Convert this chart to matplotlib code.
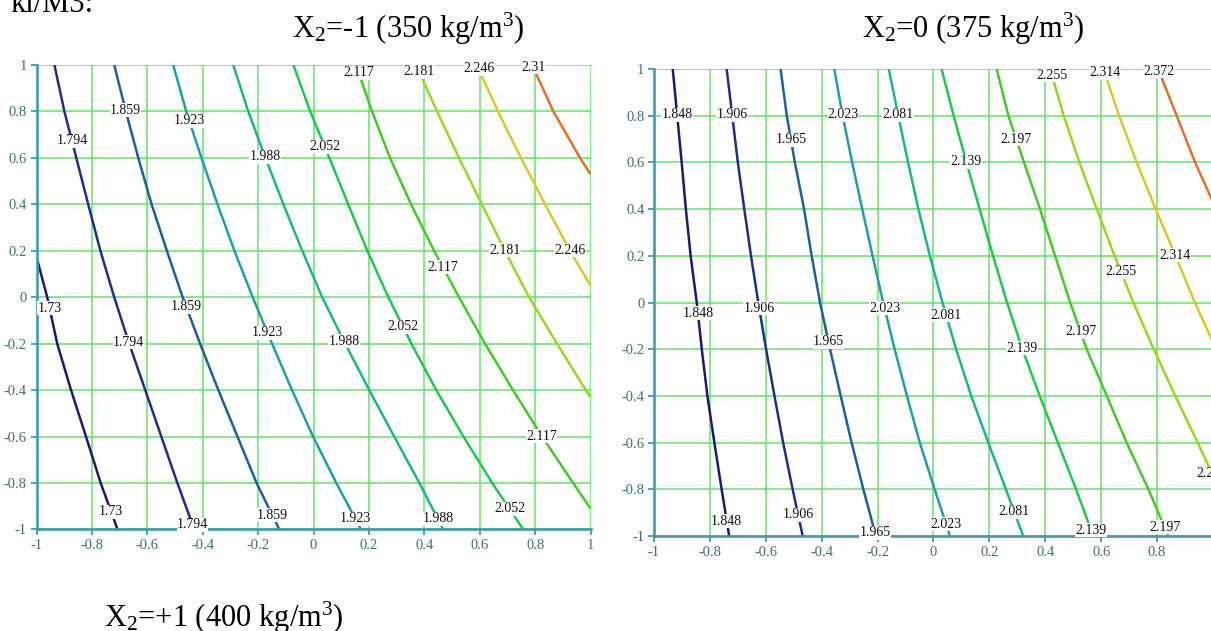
import numpy as np
import matplotlib
matplotlib.use("Agg")
import matplotlib.pyplot as plt

plt.rcParams['mathtext.fontset'] = 'custom'
plt.rcParams['mathtext.rm'] = 'Liberation Serif'
plt.rcParams['mathtext.it'] = 'Liberation Serif:italic'
plt.rcParams['font.family'] = ['Liberation Serif', 'DejaVu Serif']

# ---- axis ticks -------------------------------------------------------
tick_values = [-1, -0.8, -0.6, -0.4, -0.2, 0, 0.2, 0.4, 0.6, 0.8, 1]
tick_labels = ['-1', '-0.8', '-0.6', '-0.4', '-0.2', '0', '0.2', '0.4', '0.6', '0.8', '1']

# common X3 positions at which contour traces are sampled
x3_full = [1, 0.8, 0.6, 0.4, 0.2, 0, -0.2, -0.4, -0.6, -0.8, -1]

# ---- panel X2 = -1 ----------------------------------------------------
left_levels = [1.73, 1.794, 1.859, 1.923, 1.988, 2.052, 2.117, 2.181, 2.246, 2.31]
left_x3 = [
    [0.17, 0, -0.2, -0.4, -0.6, -0.8, -1],
    x3_full, x3_full, x3_full, x3_full, x3_full,
    [1, 0.8, 0.6, 0.4, 0.2, 0, -0.2, -0.4, -0.6, -0.8, -0.91],
    [1, 0.8, 0.6, 0.4, 0.2, 0, -0.2, -0.4, -0.43],
    [1, 0.8, 0.6, 0.4, 0.2, 0.05],
    [1, 0.8, 0.6, 0.53],
]
left_x1 = [
    [-1.0, -0.962, -0.926, -0.876, -0.822, -0.769, -0.708],
    [-0.936, -0.900, -0.857, -0.814, -0.770, -0.720, -0.666, -0.608, -0.550, -0.492, -0.431],
    [-0.720, -0.678, -0.633, -0.585, -0.530, -0.473, -0.410, -0.344, -0.275, -0.206, -0.124],
    [-0.507, -0.460, -0.405, -0.347, -0.286, -0.220, -0.150, -0.078, -0.002, 0.082, 0.171],
    [-0.290, -0.236, -0.174, -0.109, -0.041, 0.031, 0.114, 0.201, 0.291, 0.382, 0.468],
    [-0.073, -0.012, 0.057, 0.125, 0.194, 0.270, 0.353, 0.443, 0.541, 0.645, 0.757],
    [0.153, 0.211, 0.276, 0.352, 0.435, 0.525, 0.619, 0.720, 0.825, 0.937, 1.0],
    [0.370, 0.446, 0.525, 0.608, 0.691, 0.778, 0.879, 0.983, 1.0],
    [0.589, 0.666, 0.749, 0.836, 0.926, 1.0],
    [0.789, 0.866, 0.962, 1.0],
]
# X3 positions of the inline value labels on each contour
left_label_x3 = [
    [-0.047, -0.925],
    [0.673, -0.193, -0.98],
    [0.806, -0.042, -0.938],
    [0.759, -0.154, -0.955],
    [0.604, -0.189, -0.955],
    [0.647, -0.128, -0.912],
    [0.966, 0.130, -0.598],
    [0.97, 0.203],
    [0.983, 0.203],
    [0.99],
]

# ---- panel X2 = 0 -----------------------------------------------------
right_levels = [1.848, 1.906, 1.965, 2.023, 2.081, 2.139, 2.197, 2.255, 2.314, 2.372]
right_x3 = [
    x3_full, x3_full, x3_full, x3_full, x3_full, x3_full, x3_full,
    [1, 0.8, 0.6, 0.4, 0.2, 0, -0.2, -0.4, -0.6, -0.74],
    [1, 0.8, 0.6, 0.4, 0.2, 0, -0.17],
    [1, 0.8, 0.6, 0.43],
]
right_x1 = [
    [-0.933, -0.917, -0.901, -0.886, -0.869, -0.847, -0.829, -0.809, -0.784, -0.758, -0.731],
    [-0.740, -0.720, -0.700, -0.677, -0.653, -0.627, -0.599, -0.569, -0.538, -0.504, -0.468],
    [-0.547, -0.525, -0.496, -0.463, -0.436, -0.406, -0.370, -0.332, -0.293, -0.251, -0.206],
    [-0.355, -0.325, -0.291, -0.255, -0.218, -0.180, -0.139, -0.095, -0.049, 0.004, 0.059],
    [-0.160, -0.126, -0.091, -0.054, -0.013, 0.032, 0.081, 0.135, 0.196, 0.259, 0.321],
    [0.029, 0.072, 0.118, 0.165, 0.213, 0.263, 0.318, 0.380, 0.445, 0.510, 0.572],
    [0.226, 0.268, 0.324, 0.381, 0.435, 0.489, 0.548, 0.620, 0.691, 0.769, 0.840],
    [0.417, 0.466, 0.522, 0.584, 0.648, 0.715, 0.788, 0.865, 0.945, 1.0],
    [0.608, 0.664, 0.727, 0.795, 0.866, 0.935, 1.0],
    [0.804, 0.870, 0.936, 1.0],
]
right_label_x3 = [
    [0.803, -0.045, -0.936],
    [0.803, -0.024, -0.910],
    [0.696, -0.169, -0.987],
    [0.803, -0.024, -0.949],
    [0.803, -0.054, -0.897],
    [0.602, -0.195, -0.975],
    [0.700, -0.126, -0.962],
    [0.974, 0.131, -0.734],
    [0.983, 0.203],
    [0.991],
]

# colour ramp shared by both panels (lowest to highest level)
level_colors = ['#1b1a72', '#1f2c8c', '#1f5e9c', '#1e9fa8', '#1eb48a',
                '#22c64e', '#44c82a', '#96d624', '#d6c82a', '#e2702a']

SPINE = '#3f9caa'
GRID = '#66e066'
TICKTXT = '#3e6e72'


def draw_panel(ax, levels, x3s, x1s, label_x3s):
    ax.set_xlim(-1, 1)
    ax.set_ylim(-1, 1)
    ax.set_xticks(tick_values)
    ax.set_xticklabels(tick_labels)
    ax.set_yticks(tick_values)
    ax.set_yticklabels(tick_labels)
    ax.grid(True, color=GRID, lw=1.1, zorder=0)
    ax.set_axisbelow(True)
    for side in ('top', 'right'):
        ax.spines[side].set_visible(False)
    for side in ('left', 'bottom'):
        ax.spines[side].set_color(SPINE)
        ax.spines[side].set_linewidth(1.9)
        ax.spines[side].set_zorder(5)
    ax.tick_params(direction='out', length=4.5, width=1.3, color=SPINE,
                   labelcolor=TICKTXT, labelsize=10.5, pad=2.5)
    for lev, ys, xs, lys, col in zip(levels, x3s, x1s, label_x3s, level_colors):
        ax.plot(xs, ys, color=col, lw=1.8, zorder=3, solid_capstyle='butt')
        yr = np.asarray(ys)[::-1]
        xr = np.asarray(xs)[::-1]
        for ly in lys:
            lx = np.interp(ly, yr, xr)
            ax.text(lx, ly, f"{lev:g}", ha='center', va='center', fontsize=10,
                    color='#111111', zorder=6, clip_on=False,
                    bbox=dict(facecolor='white', edgecolor='none', pad=0.2))


fig = plt.figure(figsize=(12.11, 6.31), dpi=100)
ax1 = fig.add_axes([0.03031, 0.16101, 0.45731, 0.73597])
ax2 = fig.add_axes([0.54005, 0.15055, 0.46160, 0.74010])
draw_panel(ax1, left_levels, left_x3, left_x1, left_label_x3)
draw_panel(ax2, right_levels, right_x3, right_x1, right_label_x3)

W, H = 1211.0, 631.0
title_kw = dict(fontsize=22, color='black', ha='left', va='baseline')
fig.text(10 / W, 1 - 11.5 / H, 'ki/M3:', **title_kw)
fig.text(291.7 / W, 1 - 38.3 / H, r'X$_2$=-1 (350 kg/m$^3$)', **title_kw)
fig.text(862 / W, 1 - 38.3 / H, r'X$_2$=0 (375 kg/m$^3$)', **title_kw)
fig.text(104 / W, 1 - 626.7 / H, r'X$_2$=+1 (400 kg/m$^3$)', **title_kw)

fig.savefig('out.png', dpi=100, facecolor='white')
